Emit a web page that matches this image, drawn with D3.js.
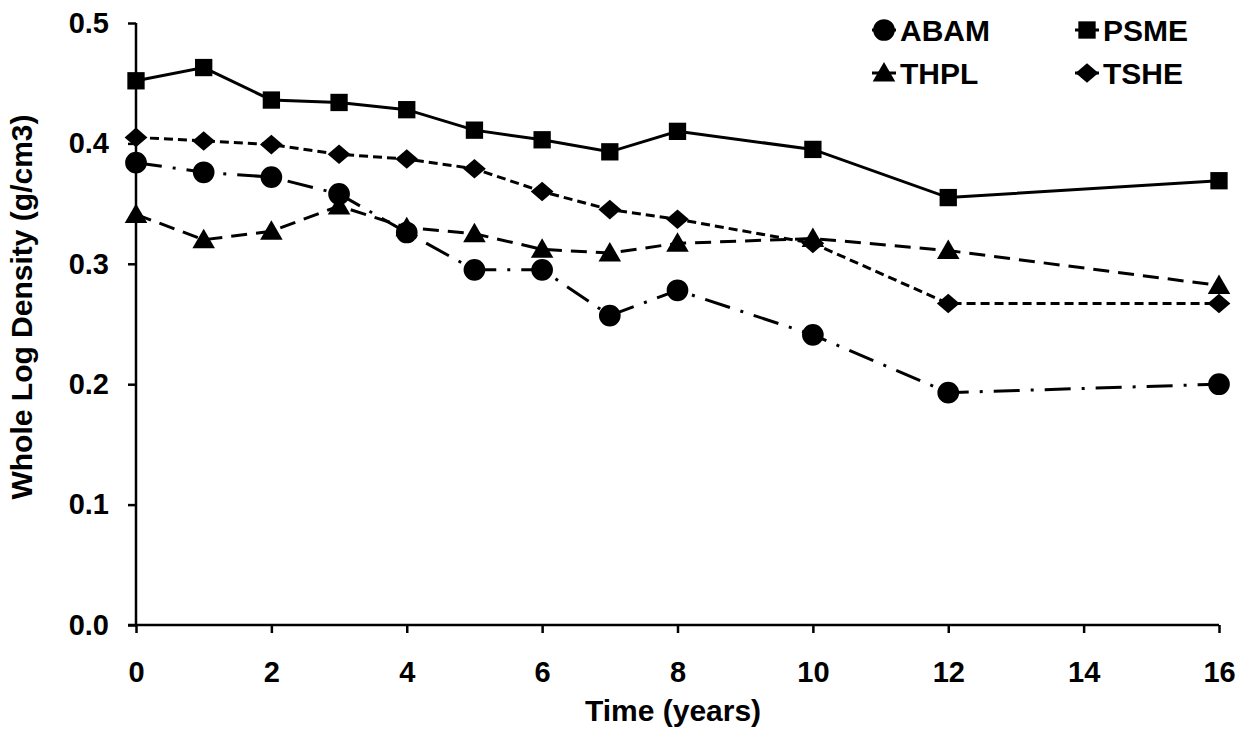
<!DOCTYPE html>
<html><head><meta charset="utf-8">
<script src="https://cdn.jsdelivr.net/npm/d3@7"></script>
<style>body{margin:0;background:#fff}svg{display:block}text{font-family:"Liberation Sans",Arial,sans-serif;font-weight:bold;fill:#000}</style>
</head><body><svg id="c" width="1241" height="731"></svg>
<script>
const years = [0,1,2,3,4,5,6,7,8,10,12,16];
const ABAM = [0.384,0.376,0.372,0.358,0.326,0.295,0.295,0.257,0.278,0.241,0.193,0.200];
const PSME = [0.452,0.463,0.436,0.434,0.428,0.411,0.403,0.393,0.410,0.395,0.355,0.369];
const THPL = [0.341,0.320,0.327,0.348,0.330,0.325,0.312,0.309,0.317,0.321,0.311,0.282];
const TSHE = [0.405,0.402,0.399,0.391,0.387,0.379,0.360,0.345,0.337,0.317,0.267,0.267];
const xTicks = [0,2,4,6,8,10,12,14,16];
const yTicks = [0,0.1,0.2,0.3,0.4,0.5];

const wideDiamond = {draw(ctx, size){ const w=Math.sqrt(size)*0.72, h=Math.sqrt(size)*0.62;
  ctx.moveTo(0,-h); ctx.lineTo(w,0); ctx.lineTo(0,h); ctx.lineTo(-w,0); ctx.closePath(); }};

const series = [
  {name:"ABAM", vals:ABAM, sym:d3.symbolCircle, size:370, dash:"26,11,3,11"},
  {name:"PSME", vals:PSME, sym:d3.symbolSquare, size:300, dash:null},
  {name:"THPL", vals:THPL, sym:d3.symbolTriangle, size:220, dash:"16,9"},
  {name:"TSHE", vals:TSHE, sym:wideDiamond, size:250, dash:"9,5"}
];

const svg = d3.select("#c");
const x = d3.scaleLinear().domain([0,16]).range([136,1219]);
const y = d3.scaleLinear().domain([0,0.5]).range([625,23]);

const gx = svg.append("g").attr("transform","translate(0,625)")
  .call(d3.axisBottom(x).tickValues(xTicks).tickSize(8).tickPadding(28).tickFormat(d3.format("d")));
const gy = svg.append("g").attr("transform","translate(136,0)")
  .call(d3.axisLeft(y).tickValues(yTicks).tickSize(8).tickPadding(19).tickFormat(d3.format(".1f")));
[gx,gy].forEach(g=>{
  g.attr("font-size",null).attr("font-family",null);
  g.select(".domain").attr("stroke","#000").attr("stroke-width",2.5);
  g.selectAll(".tick line").attr("stroke","#000").attr("stroke-width",2.5);
  g.selectAll(".tick text").style("font-size","29px").attr("fill","#000");
});
gy.selectAll(".tick text").attr("x",-27);
gy.select(".domain").attr("d","M0,23V625");
gx.select(".domain").attr("d","M128,0H1219");

svg.append("text").attr("x",673).attr("y",721).attr("text-anchor","middle").style("font-size","30px").text("Time (years)");
svg.append("text").attr("transform","translate(32,307) rotate(-90)").attr("text-anchor","middle").style("font-size","30px").text("Whole Log Density (g/cm3)");

const line = d3.line().x(d=>x(d[0])).y(d=>y(d[1]));
series.forEach(s=>{
  const pts = years.map((yr,i)=>[yr,s.vals[i]]);
  svg.append("path").attr("d",line(pts)).attr("fill","none").attr("stroke","#000")
    .attr("stroke-width",3).attr("stroke-dasharray",s.dash);
  svg.selectAll(null).data(pts).enter().append("path")
    .attr("d",d3.symbol().type(s.sym).size(s.size))
    .attr("transform",d=>`translate(${x(d[0])},${y(d[1])+(s.sym===d3.symbolTriangle?2:0)})`)
    .attr("fill","#000");
});

// legend
const legPos = [[884,30],[1087,30],[884,73],[1087,73]];
series.forEach((s,i)=>{
  const [lx,ly] = legPos[i];
  const g = svg.append("g").attr("transform",`translate(${lx},${ly})`);
  g.append("line").attr("x1",-12).attr("x2",12).attr("y1",0).attr("y2",0).attr("stroke","#000").attr("stroke-width",3);
  g.append("path").attr("d",d3.symbol().type(s.sym).size(s.size)).attr("transform",s.sym===d3.symbolTriangle?"translate(0,2)":null).attr("fill","#000");
  g.append("text").attr("x",16).attr("y",11).style("font-size","30px").text(s.name);
});
</script></body></html>
